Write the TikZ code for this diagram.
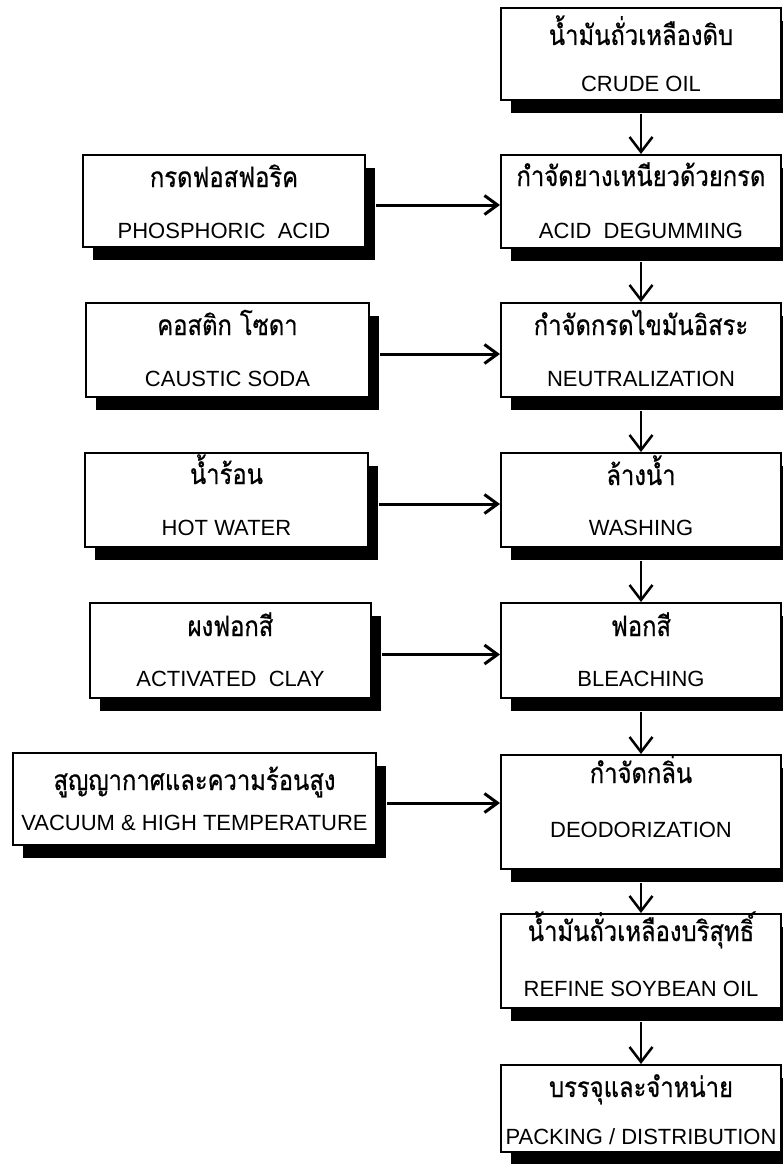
\documentclass[tikz,border=0pt]{standalone}
\usepackage{fontspec}
\usetikzlibrary{shadows,arrows.meta}
\newfontfamily\thaifont[Script=Thai, FakeStretch=0.85, FakeBold=0.6]{Loma}
\newfontfamily\enfont{Liberation Sans}
\tikzset{
  box/.style={draw, line width=2pt, fill=white, inner sep=0pt,
    drop shadow={shadow xshift=10pt, shadow yshift=-13pt, fill=black, opacity=1}},
  th/.style={font=\thaifont\fontsize{28}{28}\selectfont, anchor=base, inner sep=0pt},
  en/.style={font=\enfont\fontsize{22}{22}\selectfont, anchor=base, inner sep=0pt},
  harr/.style={line width=3pt, -{Straight Barb[length=13pt,width=19pt]}},
  varr/.style={line width=2.5pt, -{Straight Barb[length=15pt,width=23pt]}}
}
\begin{document}
\begin{tikzpicture}[x=1pt,y=-1pt]
\path[use as bounding box] (0,0) rectangle (783,1164);
\clip (0,0) rectangle (783,1164);
\fill[white] (0,0) rectangle (783,1164);
% right column boxes
\node[box, minimum width=280pt, minimum height=92pt] (R1) at (641,54) {};
\node[box, minimum width=280pt, minimum height=93pt] (R2) at (641,201.5) {};
\node[box, minimum width=280pt, minimum height=94pt] (R3) at (641,350) {};
\node[box, minimum width=280pt, minimum height=94pt] (R4) at (641,500) {};
\node[box, minimum width=280pt, minimum height=95pt] (R5) at (641,650.5) {};
\node[box, minimum width=280pt, minimum height=114pt] (R6) at (641,812) {};
\node[box, minimum width=280pt, minimum height=94pt] (R7) at (641,961) {};
\node[box, minimum width=280pt, minimum height=87pt] (R8) at (641,1108.5) {};
% left column boxes
\node[box, minimum width=282pt, minimum height=92pt] (L2) at (224,201) {};
\node[box, minimum width=283pt, minimum height=94pt] (L3) at (227.5,350) {};
\node[box, minimum width=283pt, minimum height=94pt] (L4) at (226.5,500) {};
\node[box, minimum width=281pt, minimum height=95pt] (L5) at (230.5,650.5) {};
\node[box, minimum width=363pt, minimum height=92pt] (L6) at (194.5,799) {};
% texts right
\node[th] (R1t) at ([yshift=-38pt]R1.north) {น้ำมันถั่วเหลืองดิบ};
\node[en] (R1e) at ([yshift=-85pt]R1.north) {CRUDE OIL};
\node[th] (R2t) at ([yshift=-32pt]R2.north) {กำจัดยางเหนียวด้วยกรด};
\node[en] (R2e) at ([yshift=-84pt]R2.north) {ACID~~DEGUMMING};
\node[th] (R3t) at ([yshift=-33pt]R3.north) {กำจัดกรดไขมันอิสระ};
\node[en] (R3e) at ([yshift=-84pt]R3.north) {NEUTRALIZATION};
\node[th] (R4t) at ([yshift=-33pt]R4.north) {ล้างน้ำ};
\node[en] (R4e) at ([yshift=-83pt]R4.north) {WASHING};
\node[th] (R5t) at ([yshift=-34pt]R5.north) {ฟอกสี};
\node[en] (R5e) at ([yshift=-84pt]R5.north) {BLEACHING};
\node[th] (R6t) at ([yshift=-29pt]R6.north) {กำจัดกลิ่น};
\node[en] (R6e) at ([yshift=-83pt]R6.north) {DEODORIZATION};
\node[th] (R7t) at ([yshift=-28pt]R7.north) {น้ำมันถั่วเหลืองบริสุทธิ์};
\node[en] (R7e) at ([yshift=-83pt]R7.north) {REFINE SOYBEAN OIL};
\node[th] (R8t) at ([yshift=-33pt]R8.north) {บรรจุและจำหน่าย};
\node[en] (R8e) at ([yshift=-80pt]R8.north) {PACKING / DISTRIBUTION};
% texts left
\node[th] (L2t) at ([yshift=-33pt]L2.north) {กรดฟอสฟอริค};
\node[en] (L2e) at ([yshift=-84pt]L2.north) {PHOSPHORIC~~ACID};
\node[th] (L3t) at ([yshift=-33pt]L3.north) {คอสติก โซดา};
\node[en] (L3e) at ([yshift=-84pt]L3.north) {CAUSTIC SODA};
\node[th] (L4t) at ([yshift=-32pt]L4.north) {น้ำร้อน};
\node[en] (L4e) at ([yshift=-83pt]L4.north) {HOT WATER};
\node[th] (L5t) at ([yshift=-34pt]L5.north) {ผงฟอกสี};
\node[en] (L5e) at ([yshift=-84pt]L5.north) {ACTIVATED~~CLAY};
\node[th] (L6t) at ([yshift=-38pt]L6.north) {สูญญากาศและความร้อนสูง};
\node[en] (L6e) at ([yshift=-78pt]L6.north) {VACUUM \& HIGH TEMPERATURE};
% vertical arrows
\foreach \a/\b in {R1/R2,R2/R3,R3/R4,R4/R5,R5/R6,R6/R7,R7/R8}
  \draw[varr] ([yshift=-13pt]\a.south) -- (\b.north);
% horizontal arrows
\foreach \a/\b in {L2/R2,L3/R3,L4/R4,L5/R5,L6/R6}{
  \coordinate (s\a) at ([xshift=10pt,yshift=-4pt]\a.east);
  \draw[harr] (s\a) -- (s\a -| \b.west);
}
\end{tikzpicture}
\end{document}
